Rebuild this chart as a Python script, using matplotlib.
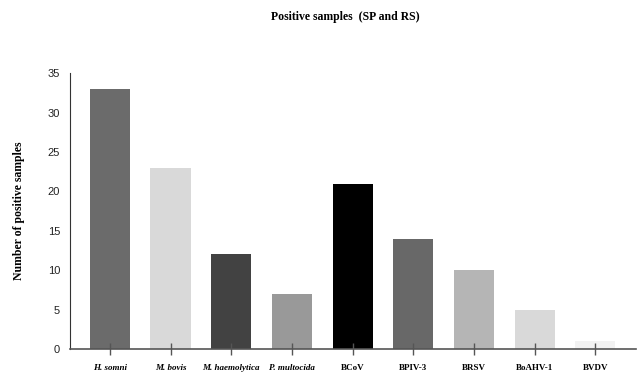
import matplotlib
matplotlib.use("Agg")
import matplotlib.pyplot as plt

categories = ["H. somni", "M. bovis", "M. haemolytica", "P. multocida", "BCoV",
              "BPIV-3", "BRSV", "BoAHV-1", "BVDV"]
values = [33, 23, 12, 7, 21, 14, 10, 5, 1]
colors = ["#6b6b6b", "#d9d9d9", "#424242", "#999999", "#000000",
          "#686868", "#b5b5b5", "#d9d9d9", "#f2f2f2"]
italic = [True, True, True, True, False, False, False, False, False]

fig = plt.figure(figsize=(6.4, 3.73), dpi=100)
ax = fig.add_axes([0.109, 0.064, 0.884, 0.740])
x = list(range(len(categories)))
ax.bar(x, values, width=0.66, color=colors)
ax.set_xlim(-0.66, 8.66)
ax.set_ylim(0, 35)
ax.set_yticks(range(0, 36, 5))
ax.tick_params(axis="y", length=0, labelsize=8, pad=7)
for lab in ax.get_yticklabels():
    lab.set_family("Liberation Sans")
    lab.set_color("#222222")
ax.set_xticks(x)
ax.set_xticklabels(categories)
ax.tick_params(axis="x", direction="inout", length=9, width=1, color="#555555", pad=6)
for lab, it in zip(ax.get_xticklabels(), italic):
    lab.set_family("Liberation Serif")
    lab.set_fontsize(6.5)
    lab.set_fontweight("bold")
    lab.set_style("italic" if it else "normal")
for s in ["top", "right"]:
    ax.spines[s].set_visible(False)
ax.spines["left"].set_color("#333333")
ax.spines["bottom"].set_color("#555555")
ax.spines["bottom"].set_linewidth(1.2)
ax.set_ylabel("Number of positive samples", family="Liberation Serif", fontsize=8.5,
              fontweight="bold", labelpad=16)
fig.text(0.54, 0.955, "Positive samples  (SP and RS)", ha="center", va="center",
         family="Liberation Serif", fontsize=8.5, fontweight="bold")
fig.savefig("out.png", dpi=100)
